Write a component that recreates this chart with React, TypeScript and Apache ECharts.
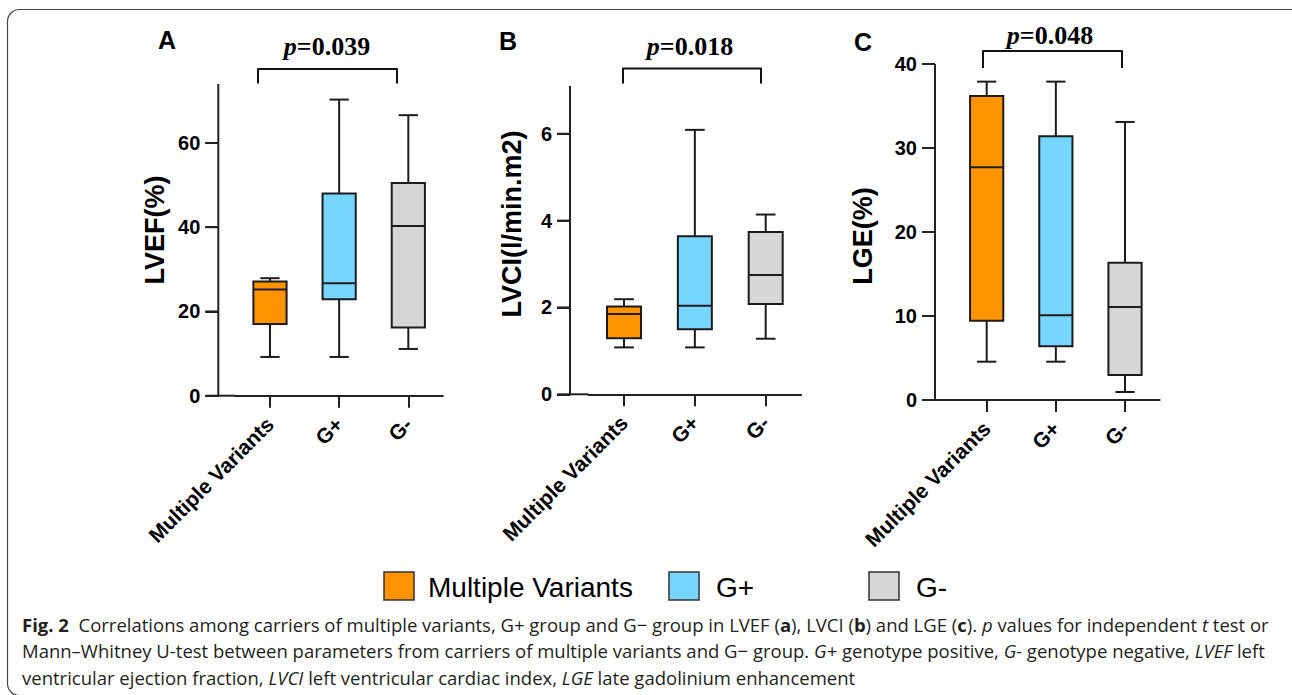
import React, { useEffect, useRef } from 'react';
import * as echarts from 'echarts';

const categories = ['Multiple Variants', 'G+', 'G-'];
const groupColors = ['#FF9300', '#76D6FF', '#D6D6D6'];

// each row: [min, Q1, median, Q3, max]
const lvefStats = [
  [9.2, 17.0, 25.2, 27.1, 27.9],
  [9.2, 22.9, 26.7, 48.0, 70.3],
  [11.1, 16.2, 40.3, 50.5, 66.6],
];
const lvciStats = [
  [1.08, 1.29, 1.85, 2.02, 2.19],
  [1.08, 1.5, 2.04, 3.64, 6.09],
  [1.28, 2.08, 2.75, 3.74, 4.14],
];
const lgeStats = [
  [4.56, 9.44, 27.7, 36.2, 37.9],
  [4.56, 6.4, 10.1, 31.4, 37.9],
  [0.95, 2.98, 11.07, 16.35, 33.1],
];

const lvefTicks = [0, 20, 40, 60];
const lvciTicks = [0, 2, 4, 6];
const lgeTicks = [0, 10, 20, 30, 40];
const yAxisTops = [74, 7.1, 40]; // where the drawn axis line ends
const yScaleMax = [80, 8, 40]; // nice scale maximum
const yTitles = ['LVEF(%)', 'LVCI(l/min.m2)', 'LGE(%)'];
const panelLetters = ['A', 'B', 'C'];
const pValues = ['0.039', '0.018', '0.048'];

const panelStats = [lvefStats, lvciStats, lgeStats];
const panelTicks = [lvefTicks, lvciTicks, lgeTicks];

// layout (pixels)
const layout = [
  { axisX: 218.3, left: 235.4, right: 442.9, top: 84, bottom: 395.7, titleX: 155, titleY: 230, letterX: 167, letterY: 40, pX: 327, pY: 46, br: [258, 397, 69, 83.5] },
  { axisX: 570, left: 588.6, right: 801.1, top: 86, bottom: 394.3, titleX: 512, titleY: 224, letterX: 508, letterY: 41, pX: 690, pY: 46, br: [623, 761, 68.5, 83.5] },
  { axisX: 935, left: 952.1, right: 1159.6, top: 64, bottom: 400, titleX: 863, titleY: 236, letterX: 863, letterY: 42, pX: 1050, pY: 35, br: [983, 1122, 51, 68] },
];

const AX = '#222';
const FONT = 'Liberation Sans, Arial, sans-serif';
const SERIF = 'Liberation Serif, Times New Roman, serif';
const CAP = 'Open Sans, sans-serif';
const CAP_SIZE = 18.5;
const Y_TICK_LEN = 13;

const captionLines = [
  '{b|Fig. 2}  Correlations among carriers of multiple variants, G+ group and G\u2212 group in LVEF ({b|a}), LVCI ({b|b}) and LGE ({b|c}). {i|p} values for independent {i|t} test or',
  'Mann\u2013Whitney U-test between parameters from carriers of multiple variants and G\u2212 group. {i|G+} genotype positive, {i|G-} genotype negative, {i|LVEF} left',
  'ventricular ejection fraction, {i|LVCI} left ventricular cardiac index, {i|LGE} late gadolinium enhancement',
];
const legendItems = [
  { name: 'Multiple Variants', x: 384, tx: 428 },
  { name: 'G+', x: 669, tx: 716 },
  { name: 'G-', x: 869, tx: 916 },
];

export default function App() {
  const ref = useRef<HTMLDivElement>(null);
  useEffect(() => {
    document.body.style.margin = '0';
    if (!ref.current) return;
    const chart = echarts.init(ref.current, null, { renderer: 'svg' });

    const grids: any[] = [];
    const xAxes: any[] = [];
    const yAxes: any[] = [];
    const series: any[] = [];
    const graphics: any[] = [];

    layout.forEach((L, k) => {
      const ppu = (L.bottom - L.top) / yAxisTops[k];
      const gridTop = L.bottom - yScaleMax[k] * ppu;
      const offset = L.left - L.axisX;
      grids.push({
        left: L.left,
        top: gridTop,
        width: L.right - L.left,
        height: L.bottom - gridTop,
        outerBoundsMode: 'none',
        containLabel: false,
      });
      xAxes.push({
        type: 'category',
        gridIndex: k,
        data: categories,
        boundaryGap: true,
        axisLine: { show: true, lineStyle: { color: AX, width: 2 } },
        axisTick: { show: true, alignWithLabel: true, length: 12, lineStyle: { color: AX, width: 2 } },
        axisLabel: {
          interval: 0,
          rotate: 45,
          margin: 25,
          color: '#000',
          fontFamily: FONT,
          fontWeight: 'bold',
          fontSize: 21,
        },
        splitLine: { show: false },
      });
      yAxes.push({
        type: 'value',
        gridIndex: k,
        min: 0,
        max: yScaleMax[k],
        offset,
        axisLine: { show: false },
        axisTick: { show: true, length: Y_TICK_LEN, customValues: panelTicks[k], lineStyle: { color: AX, width: 2 } },
        axisLabel: {
          customValues: panelTicks[k],
          margin: 18,
          color: '#000',
          fontFamily: FONT,
          fontWeight: 'bold',
          fontSize: 20,
        },
        splitLine: { show: false },
      });
      series.push({
        type: 'custom',
        xAxisIndex: k,
        yAxisIndex: k,
        encode: { x: 0, y: [1, 2, 3, 4, 5] },
        data: panelStats[k].map((s, i) => ({ value: [i, ...s], itemStyle: { color: groupColors[i] } })),
        renderItem: (params: any, api: any) => {
          const xi = api.value(0);
          const pMin = api.coord([xi, api.value(1)]);
          const pQ1 = api.coord([xi, api.value(2)]);
          const pMed = api.coord([xi, api.value(3)]);
          const pQ3 = api.coord([xi, api.value(4)]);
          const pMax = api.coord([xi, api.value(5)]);
          const band = api.size([1, 0])[0];
          const bw = band * 0.48;
          const cw = bw * 0.58;
          const cx = pMed[0];
          const st = { stroke: '#1c1c1c', lineWidth: 2 };
          return {
            type: 'group',
            children: [
              { type: 'line', shape: { x1: cx, y1: pMax[1], x2: cx, y2: pQ3[1] }, style: st },
              { type: 'line', shape: { x1: cx, y1: pQ1[1], x2: cx, y2: pMin[1] }, style: st },
              { type: 'line', shape: { x1: cx - cw / 2, y1: pMax[1], x2: cx + cw / 2, y2: pMax[1] }, style: st },
              { type: 'line', shape: { x1: cx - cw / 2, y1: pMin[1], x2: cx + cw / 2, y2: pMin[1] }, style: st },
              {
                type: 'rect',
                shape: { x: cx - bw / 2, y: pQ3[1], width: bw, height: pQ1[1] - pQ3[1] },
                style: { fill: api.visual('color'), stroke: '#1c1c1c', lineWidth: 2 },
              },
              { type: 'line', shape: { x1: cx - bw / 2, y1: pMed[1], x2: cx + bw / 2, y2: pMed[1] }, style: st },
            ],
          };
        },
      });
      // y-axis ticks also drawn through the axis' scale by a custom series
      series.push({
        type: 'custom',
        xAxisIndex: k,
        yAxisIndex: k,
        clip: false,
        z: 10,
        encode: { x: 0, y: 1 },
        data: panelTicks[k].map((v) => [0, v]),
        renderItem: (params: any, api: any) => {
          const p = api.coord([0, api.value(1)]);
          const band = api.size([1, 0])[0];
          const ax = p[0] - band / 2 - offset;
          return {
            type: 'line',
            shape: { x1: ax - Y_TICK_LEN, y1: p[1], x2: ax, y2: p[1] },
            style: { stroke: AX, lineWidth: 2 },
          };
        },
      });

      // y axis line (ends at the axis top, below the nice scale max)
      graphics.push({
        type: 'line',
        shape: { x1: L.axisX, y1: L.top, x2: L.axisX, y2: L.bottom + 1 },
        style: { stroke: AX, lineWidth: 2 },
      });
      // x axis segment between offset y axis and grid start
      graphics.push({
        type: 'line',
        shape: { x1: L.axisX - 1, y1: L.bottom, x2: L.left, y2: L.bottom },
        style: { stroke: AX, lineWidth: 2 },
      });
      // y title
      graphics.push({
        type: 'text',
        x: L.titleX,
        y: L.titleY,
        rotation: Math.PI / 2,
        style: {
          text: yTitles[k],
          fill: '#000',
          fontFamily: FONT,
          fontWeight: 'bold',
          fontSize: 27,
          align: 'center',
          verticalAlign: 'middle',
        },
      });
      // panel letter
      graphics.push({
        type: 'text',
        x: L.letterX,
        y: L.letterY,
        style: {
          text: panelLetters[k],
          fill: '#000',
          fontFamily: FONT,
          fontWeight: 'bold',
          fontSize: 25,
          align: 'center',
          verticalAlign: 'middle',
        },
      });
      // bracket
      const [bx1, bx2, byt, byb] = L.br;
      graphics.push({
        type: 'polyline',
        shape: { points: [[bx1, byb], [bx1, byt], [bx2, byt], [bx2, byb]] },
        style: { stroke: '#111', lineWidth: 2, fill: 'none', lineJoin: 'round' },
      });
      // p value
      graphics.push({
        type: 'text',
        x: L.pX,
        y: L.pY,
        style: {
          text: '{i|p}{n|=' + pValues[k] + '}',
          align: 'center',
          verticalAlign: 'middle',
          fill: '#000',
          fontFamily: SERIF,
          fontWeight: 'bold',
          fontSize: 26,
          rich: {
            i: { fontFamily: SERIF, fontWeight: 'bold', fontStyle: 'italic', fontSize: 26, fill: '#000' },
            n: { fontFamily: SERIF, fontWeight: 'bold', fontSize: 26, fill: '#000' },
          },
        },
      });
    });

    // legend
    legendItems.forEach((it, i) => {
      graphics.push({
        type: 'rect',
        shape: { x: it.x, y: 572, width: 30, height: 28 },
        style: { fill: groupColors[i], stroke: '#333', lineWidth: 1.5 },
      });
      graphics.push({
        type: 'text',
        x: it.tx,
        y: 587,
        style: {
          text: it.name,
          fill: '#000',
          fontFamily: FONT,
          fontSize: 28,
          align: 'left',
          verticalAlign: 'middle',
        },
      });
    });

    // caption
    const capRich = {
      b: { fontFamily: CAP, fontWeight: 'bold', fontSize: CAP_SIZE, fill: '#231f20' },
      i: { fontFamily: CAP, fontStyle: 'italic', fontSize: CAP_SIZE, fill: '#231f20' },
    };
    captionLines.forEach((t, i) => {
      graphics.push({
        type: 'text',
        x: 22,
        y: 624 + i * 26.5,
        style: {
          text: t,
          fill: '#231f20',
          fontFamily: CAP,
          fontSize: CAP_SIZE,
          align: 'left',
          verticalAlign: 'middle',
          rich: capRich,
        },
      });
    });

    // figure border
    graphics.push({
      type: 'rect',
      shape: { x: 7.5, y: 9.5, width: 1300, height: 686, r: 12 },
      style: { fill: 'none', stroke: '#444', lineWidth: 1.2 },
    });

    chart.setOption({
      animation: false,
      backgroundColor: '#fff',
      grid: grids,
      xAxis: xAxes,
      yAxis: yAxes,
      series,
      graphic: graphics,
    });
    return () => chart.dispose();
  }, []);
  return <div ref={ref} style={{ width: 1292, height: 695 }} />;
}
